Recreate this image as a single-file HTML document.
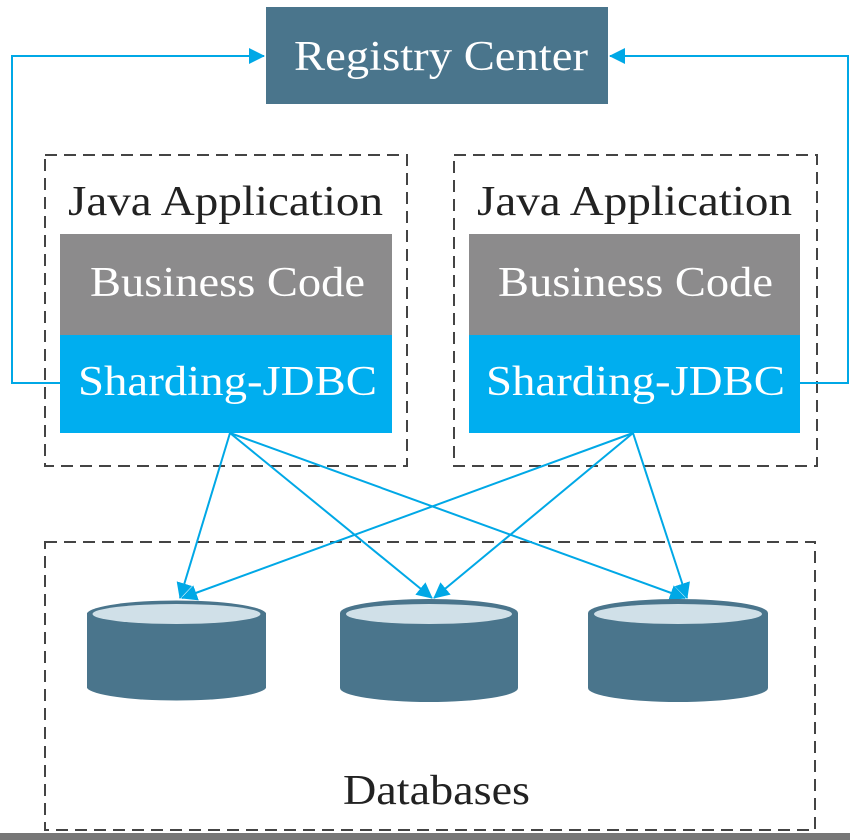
<!DOCTYPE html>
<html><head><style>
body{margin:0;background:#fff;width:850px;height:840px;overflow:hidden;position:relative;font-family:"Liberation Serif",serif}
</style></head><body>
<svg width="850" height="840" style="position:absolute;left:0;top:0">
<defs>
<marker id="b" markerWidth="16" markerHeight="16" refX="15" refY="8" orient="auto" markerUnits="userSpaceOnUse" viewBox="0 0 16 16"><path d="M0,0 L16,8 L0,16 z" fill="#00a8e6"/></marker></defs>
<rect x="266" y="7" width="342" height="97" fill="#4a758c"/>
<text x="294" y="70" font-size="42" fill="#fff" textLength="294" lengthAdjust="spacingAndGlyphs">Registry Center</text>
<g fill="none" stroke="#444" stroke-width="2" stroke-dasharray="12,7">
<rect x="45" y="155" width="362" height="311"/>
<rect x="454" y="155" width="363" height="311"/>
<rect x="45" y="542" width="770" height="288"/>
</g>
<text x="68" y="215" font-size="42" fill="#222" textLength="315" lengthAdjust="spacingAndGlyphs">Java Application</text>
<text x="477" y="215" font-size="42" fill="#222" textLength="315" lengthAdjust="spacingAndGlyphs">Java Application</text>
<rect x="60" y="234" width="332" height="101" fill="#8c8b8c"/>
<rect x="60" y="335" width="332" height="98" fill="#00aeef"/>
<rect x="469" y="234" width="331" height="101" fill="#8c8b8c"/>
<rect x="469" y="335" width="331" height="98" fill="#00aeef"/>
<g font-size="42" fill="#fff" lengthAdjust="spacingAndGlyphs">
<text x="90" y="296" textLength="275" lengthAdjust="spacingAndGlyphs">Business Code</text><text x="78" y="395" textLength="299" lengthAdjust="spacingAndGlyphs">Sharding-JDBC</text>
<text x="498" y="296" textLength="275" lengthAdjust="spacingAndGlyphs">Business Code</text><text x="486" y="395" textLength="299" lengthAdjust="spacingAndGlyphs">Sharding-JDBC</text></g>
<g fill="none" stroke="#00a8e6" stroke-width="2">
<polyline points="60,383 12,383 12,56 264,56" marker-end="url(#b)"/>
<polyline points="800,383 848,383 848,56 610,56" marker-end="url(#b)"/>
<line x1="230" y1="433" x2="180" y2="598" marker-end="url(#b)"/>
<line x1="230" y1="433" x2="432" y2="598" marker-end="url(#b)"/>
<line x1="230" y1="433" x2="685" y2="598" marker-end="url(#b)"/>
<line x1="633" y1="433" x2="182" y2="598" marker-end="url(#b)"/>
<line x1="633" y1="433" x2="434" y2="598" marker-end="url(#b)"/>
<line x1="633" y1="433" x2="687" y2="598" marker-end="url(#b)"/>
</g>
<g>
<path d="M87,613 A90,14 0 0 1 266,613 L266,688 A90,14 0 0 1 87,688 Z" fill="#4a758c"/>
<ellipse cx="176.5" cy="614" rx="84" ry="10" fill="#d0e0e8"/>
<path d="M340,613 A89,14 0 0 1 518,613 L518,688 A89,14 0 0 1 340,688 Z" fill="#4a758c"/>
<ellipse cx="429" cy="614" rx="83" ry="10" fill="#d0e0e8"/>
<path d="M588,613 A90,14 0 0 1 768,613 L768,688 A90,14 0 0 1 588,688 Z" fill="#4a758c"/>
<ellipse cx="678" cy="614" rx="84" ry="10" fill="#d0e0e8"/>
</g>
<text x="343" y="804" font-size="42" fill="#222" textLength="187" lengthAdjust="spacingAndGlyphs">Databases</text>
<rect x="0" y="833" width="850" height="7" fill="#777"/>
</svg>
</body></html>
